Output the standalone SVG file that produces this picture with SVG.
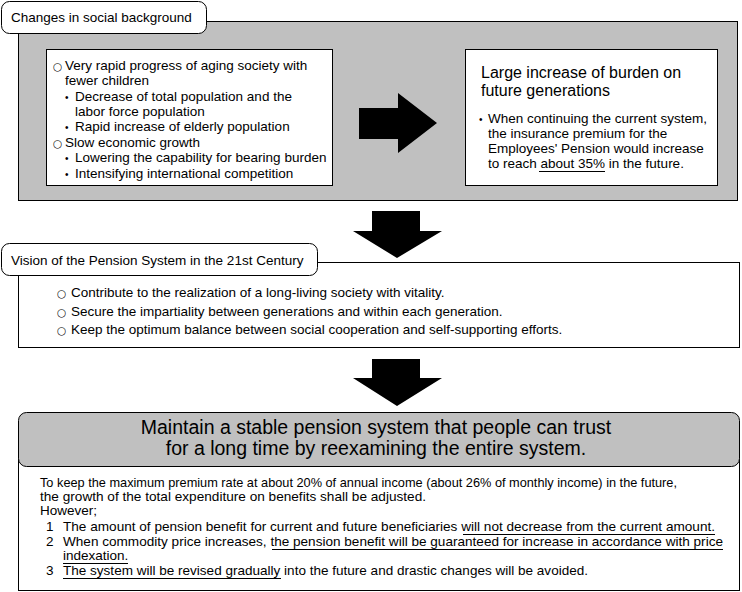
<svg xmlns="http://www.w3.org/2000/svg" width="742" height="592" viewBox="0 0 742 592">
<style>
text{font-family:"Liberation Sans",Arial,sans-serif;fill:#000}
.t{font-size:13.5px}
.big{font-size:16px}
.title{font-size:19.5px;text-anchor:middle}
.box{fill:#fff;stroke:#000;stroke-width:1}
.gray{fill:#c0c0c0;stroke:#000;stroke-width:1}
.arrow{fill:#000;stroke:none}
.ul{stroke:#000;stroke-width:1}
.sym{font-family:"DejaVu Sans",sans-serif;font-size:10.5px}
.dot{font-size:10px}
</style>
<rect width="742" height="592" fill="#fff"/>
<g id="social-background">
  <rect class="gray" x="18.5" y="21.5" width="719" height="179"/>
  <rect class="box" x="1.5" y="1.5" width="205" height="32" rx="8"/>
  <text class="t" x="11" y="22">Changes in social background</text>
</g>
<g id="causes">
  <rect class="box" x="46.5" y="49.5" width="286" height="136"/>
  <text class="t" x="53" y="70"><tspan class="sym">○</tspan><tspan x="65">Very rapid progress of aging society with</tspan></text>
  <text class="t" x="65" y="85">fewer children</text>
  <text class="t" x="65" y="101"><tspan class="dot">•</tspan><tspan x="75">Decrease of total population and the</tspan></text>
  <text class="t" x="75" y="116">labor force population</text>
  <text class="t" x="65" y="131"><tspan class="dot">•</tspan><tspan x="75">Rapid increase of elderly population</tspan></text>
  <text class="t" x="53" y="147"><tspan class="sym">○</tspan><tspan x="65">Slow economic growth</tspan></text>
  <text class="t" x="65" y="162"><tspan class="dot">•</tspan><tspan x="75">Lowering the capability for bearing burden</tspan></text>
  <text class="t" x="65" y="178"><tspan class="dot">•</tspan><tspan x="75">Intensifying international competition</tspan></text>
</g>
<g id="burden">
  <rect class="box" x="465.5" y="49.5" width="252" height="136"/>
  <text class="big" x="481" y="78">Large increase of burden on</text>
  <text class="big" x="481" y="96">future generations</text>
  <text class="t" x="479" y="123"><tspan class="dot">•</tspan><tspan x="488">When continuing the current system,</tspan></text>
  <text class="t" x="488" y="138">the insurance premium for the</text>
  <text class="t" x="488" y="153">Employees' Pension would increase</text>
  <text class="t" x="488" y="168">to reach about 35% in the future.</text>
  <line class="ul" x1="539" y1="171.5" x2="605" y2="171.5"/>
</g>
<g id="vision">
  <rect class="box" x="18.5" y="262.5" width="721" height="85"/>
  <rect class="box" x="1.5" y="243.5" width="316" height="32" rx="8"/>
  <text class="t" x="11" y="265">Vision of the Pension System in the 21st Century</text>
  <text class="t" x="57" y="297"><tspan class="sym">○</tspan><tspan x="71">Contribute to the realization of a long-living society with vitality.</tspan></text>
  <text class="t" x="57" y="316"><tspan class="sym">○</tspan><tspan x="71">Secure the impartiality between generations and within each generation.</tspan></text>
  <text class="t" x="57" y="334"><tspan class="sym">○</tspan><tspan x="71">Keep the optimum balance between social cooperation and self-supporting efforts.</tspan></text>
</g>
<g id="reform">
  <rect class="box" x="18.5" y="440.5" width="721" height="150"/>
  <rect class="gray" x="18.5" y="412.5" width="721" height="54" rx="8"/>
  <text class="title" x="376" y="434">Maintain a stable pension system that people can trust</text>
  <text class="title" x="376" y="455">for a long time by reexamining the entire system.</text>
  <text class="t" x="40" y="487" textLength="637" lengthAdjust="spacingAndGlyphs">To keep the maximum premium rate at about 20% of annual income (about 26% of monthly income) in the future,</text>
  <text class="t" x="40" y="501" textLength="386" lengthAdjust="spacingAndGlyphs">the growth of the total expenditure on benefits shall be adjusted.</text>
  <text class="t" x="40" y="515">However;</text>
  <text class="t" x="46" y="531">1</text>
  <text class="t" x="63" y="531" textLength="652" lengthAdjust="spacingAndGlyphs">The amount of pension benefit for current and future beneficiaries will not decrease from the current amount.</text>
  <text class="t" x="46" y="546">2</text>
  <text class="t" x="63" y="546" textLength="660" lengthAdjust="spacingAndGlyphs">When commodity price increases, the pension benefit will be guaranteed for increase in accordance with price</text>
  <text class="t" x="63" y="560">indexation.</text>
  <text class="t" x="46" y="575">3</text>
  <text class="t" x="63" y="575" textLength="525" lengthAdjust="spacingAndGlyphs">The system will be revised gradually into the future and drastic changes will be avoided.</text>
  <line class="ul" x1="463" y1="534.5" x2="715" y2="534.5"/>
  <line class="ul" x1="272" y1="549.5" x2="723" y2="549.5"/>
  <line class="ul" x1="63" y1="563.5" x2="128" y2="563.5"/>
  <line class="ul" x1="63" y1="578.5" x2="281" y2="578.5"/>
</g>
<g id="connectors">
  <polygon class="arrow" points="359,108 398,108 398,93 437,123 398,153 398,139 359,139"/>
  <polygon class="arrow" points="372,211 420,211 420,231 442,231 397,258 353,231 372,231"/>
  <polygon class="arrow" points="372,359 420,359 420,378 442,378 397,406 353,378 372,378"/>
</g>
</svg>
